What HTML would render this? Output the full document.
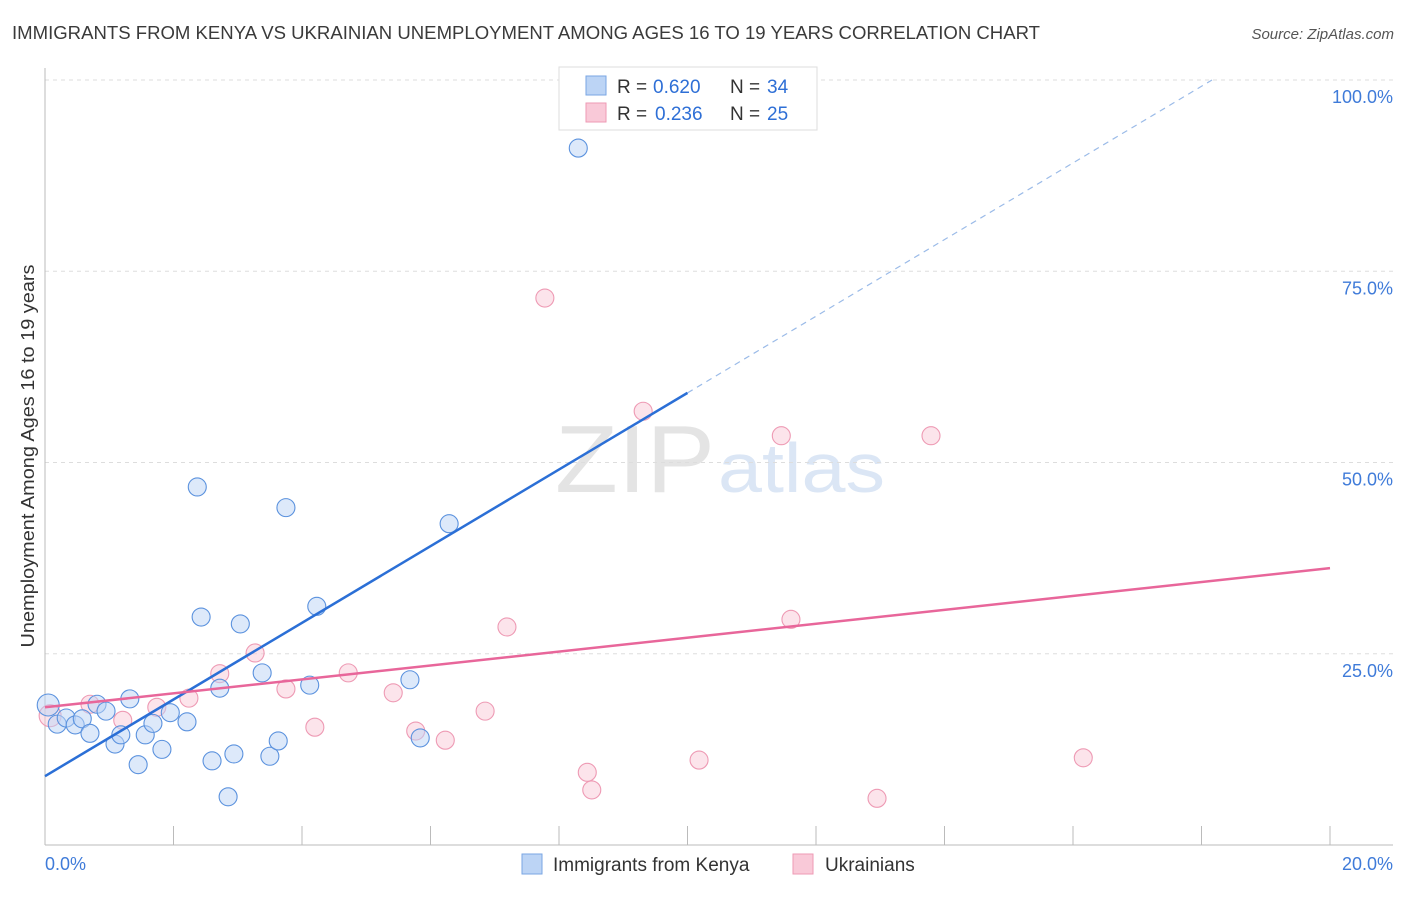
<!DOCTYPE html>
<html><head><meta charset="utf-8"><style>
body{margin:0;background:#fff;font-family:"Liberation Sans",sans-serif}
svg text{font-family:"Liberation Sans",sans-serif}
</style></head><body>
<svg id="c" width="1406" height="892" xmlns="http://www.w3.org/2000/svg">
<text x="12" y="39" font-size="18" fill="#3a3a3a" textLength="1028" lengthAdjust="spacingAndGlyphs">IMMIGRANTS FROM KENYA VS UKRAINIAN UNEMPLOYMENT AMONG AGES 16 TO 19 YEARS CORRELATION CHART</text>
<text x="1394" y="39" font-size="15" fill="#555" text-anchor="end" font-style="italic">Source: ZipAtlas.com</text>
<text x="555" y="492" font-size="96" fill="#e4e4e4" textLength="160" lengthAdjust="spacingAndGlyphs" font-family="Liberation Serif">ZIP</text>
<text x="718" y="492" font-size="70" fill="#dbe6f5" textLength="167" lengthAdjust="spacingAndGlyphs">atlas</text>
<text transform="translate(34,456) rotate(-90)" font-size="18" fill="#333" text-anchor="middle" textLength="383" lengthAdjust="spacingAndGlyphs">Unemployment Among Ages 16 to 19 years</text>
<g id="grid"></g><g id="marks"></g>
<g>
<rect x="559" y="67" width="258" height="63" fill="#fff" stroke="#ddd"/>
<rect x="586" y="76" width="20" height="19" fill="#bcd4f5" stroke="#7aa6e3"/>
<rect x="586" y="103" width="20" height="19" fill="#f9c9d8" stroke="#ee9ab4"/>
<text x="617" y="93" font-size="19" fill="#333">R =</text>
<text x="653" y="93" font-size="19" fill="#2e6fd6">0.620</text>
<text x="730" y="93" font-size="19" fill="#333">N =</text>
<text x="767" y="93" font-size="19" fill="#2e6fd6">34</text>
<text x="617" y="120" font-size="19" fill="#333">R =</text>
<text x="655" y="120" font-size="19" fill="#2e6fd6">0.236</text>
<text x="730" y="120" font-size="19" fill="#333">N =</text>
<text x="767" y="120" font-size="19" fill="#2e6fd6">25</text>
</g>
<g>
<rect x="522" y="854" width="20" height="20" fill="#bcd4f5" stroke="#7aa6e3"/>
<text x="553" y="871" font-size="19" fill="#333">Immigrants from Kenya</text>
<rect x="793" y="854" width="20" height="20" fill="#f9c9d8" stroke="#ee9ab4"/>
<text x="825" y="871" font-size="19" fill="#333">Ukrainians</text>
</g>
</svg>
<script>
const blueX=[0.05,0.19,0.33,0.47,0.58,0.70,0.81,0.95,1.09,1.18,1.32,1.45,1.56,1.68,1.82,1.95,2.21,2.37,2.43,2.60,2.72,2.85,2.94,3.04,3.38,3.50,3.63,3.75,4.12,4.23,5.68,5.84,6.29,8.30];
const blueY=[18.3,15.8,16.6,15.7,16.5,14.6,18.4,17.5,13.2,14.4,19.1,10.5,14.4,15.9,12.5,17.3,16.1,46.8,29.8,11.0,20.5,6.3,11.9,28.9,22.5,11.6,13.6,44.1,20.9,31.2,21.6,14.0,42.0,91.1];
const pinkX=[0.08,0.70,1.21,1.74,2.24,2.72,3.27,3.75,4.20,4.72,5.42,5.77,6.23,6.85,7.19,7.78,8.44,8.51,9.31,10.18,11.46,11.61,12.95,13.79,16.16];
const pinkY=[16.9,18.4,16.3,18.0,19.2,22.4,25.1,20.4,15.4,22.5,19.9,14.9,13.7,17.5,28.5,71.5,9.5,7.2,56.7,11.1,53.5,29.5,6.1,53.5,11.4];
const yTicks=[25,50,75,100];
const yTickLabels=["25.0%","50.0%","75.0%","100.0%"];
const xTicks=[0,2,4,6,8,10,12,14,16,18,20];
const xTickLabels=["0.0%","20.0%"];
const blueTrend=[9.0,5.01];
const pinkTrend=[18.0,0.91];
const sx=v=>45+v*64.25, sy=v=>845-v*7.65;
const NS="http://www.w3.org/2000/svg";
function mk(t,a,p){const e=document.createElementNS(NS,t);for(const k in a)e.setAttribute(k,a[k]);p.appendChild(e);return e;}
const g=document.getElementById('grid'), m=document.getElementById('marks');
yTicks.forEach((t,i)=>{
 const l=mk('line',{x1:45,x2:1393,y1:sy(t),y2:sy(t),stroke:'#ddd','stroke-dasharray':'4,4'},g);
 
 
 const tx=mk('text',{x:1393,y:sy(t)+23,'font-size':18,fill:'#3f7bd9','text-anchor':'end'},g);tx.textContent=yTickLabels[i];
 
 
});
const ax=mk('line',{x1:45,x2:45,y1:68,y2:845,stroke:'#bbb'},g);


const bx=mk('line',{x1:45,x2:1393,y1:845,y2:845,stroke:'#bbb'},g);


xTicks.forEach(t=>{const l=mk('line',{x1:sx(t),x2:sx(t),y1:826,y2:845,stroke:'#bbb'},g);
 
 });
[[0,0,'start'],[20,1,'end']].forEach(([v,i,a])=>{const tx=mk('text',{x:sx(v)+(a=='end'?63:0),y:870,'font-size':18,fill:'#3f7bd9','text-anchor':a},g);tx.textContent=xTickLabels[i];
 
 });
function pts(X,Y,f,s,name){X.forEach((x,i)=>{const r=(i==0)?11:9;const c=mk('circle',{cx:sx(x),cy:sy(Y[i]),r:r,fill:f,'fill-opacity':0.5,stroke:s,'stroke-width':1.1},m);
 
 });}
pts(pinkX,pinkY,'#f9c9d8','#ee9ab4','ukrainians-point');
pts(blueX,blueY,'#bcd4f5','#5b92de','kenya-point');
const bl=mk('line',{x1:sx(0),y1:sy(blueTrend[0]),x2:sx(10),y2:sy(blueTrend[0]+10*blueTrend[1]),stroke:'#2b6fd6','stroke-width':2.5},m);


const xe=(100-blueTrend[0])/blueTrend[1];
const bd=mk('line',{x1:sx(10),y1:sy(blueTrend[0]+10*blueTrend[1]),x2:sx(xe),y2:sy(100),stroke:'#9bbbe8','stroke-width':1.2,'stroke-dasharray':'6,5'},m);


const pl=mk('line',{x1:sx(0),y1:sy(pinkTrend[0]),x2:sx(20),y2:sy(pinkTrend[0]+20*pinkTrend[1]),stroke:'#e8669a','stroke-width':2.5},m);


</script>
</body></html>
